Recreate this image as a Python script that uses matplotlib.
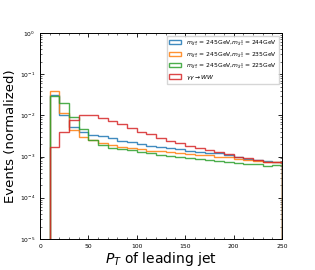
import numpy as np
import matplotlib
matplotlib.use("Agg")
import matplotlib.pyplot as plt
from matplotlib.ticker import LogLocator, AutoMinorLocator

# --- Data: normalized leading-jet pT histograms (10 GeV bins, 10-250) ---
bin_edges = list(range(10, 251, 10))

blue_vals = [3.2e-2, 1.0e-2, 5.3e-3, 4.0e-3, 3.4e-3, 3.2e-3, 2.75e-3, 2.45e-3,
             2.2e-3, 2.0e-3, 1.85e-3, 1.75e-3, 1.6e-3, 1.5e-3, 1.36e-3, 1.28e-3,
             1.25e-3, 1.2e-3, 1.1e-3, 0.96e-3, 0.88e-3, 0.83e-3, 0.76e-3, 0.75e-3]
orange_vals = [3.8e-2, 1.15e-2, 4.3e-3, 2.9e-3, 2.5e-3, 2.1e-3, 1.9e-3, 1.75e-3,
               1.6e-3, 1.55e-3, 1.4e-3, 1.35e-3, 1.26e-3, 1.23e-3, 1.13e-3, 1.07e-3,
               1.07e-3, 1.0e-3, 0.95e-3, 0.88e-3, 0.81e-3, 0.76e-3, 0.72e-3, 0.72e-3]
green_vals = [2.9e-2, 2.0e-2, 9.1e-3, 4.7e-3, 2.5e-3, 1.9e-3, 1.6e-3, 1.5e-3,
              1.45e-3, 1.26e-3, 1.2e-3, 1.1e-3, 1.05e-3, 0.96e-3, 0.91e-3, 0.87e-3,
              0.83e-3, 0.78e-3, 0.73e-3, 0.70e-3, 0.67e-3, 0.66e-3, 0.58e-3, 0.61e-3]
red_vals = [1.66e-3, 4.0e-3, 7.8e-3, 1.0e-2, 1.0e-2, 8.7e-3, 7.4e-3, 6.0e-3,
            5.0e-3, 4.0e-3, 3.5e-3, 2.8e-3, 2.45e-3, 2.1e-3, 1.85e-3, 1.6e-3,
            1.45e-3, 1.26e-3, 1.15e-3, 1.0e-3, 0.91e-3, 0.83e-3, 0.74e-3, 0.72e-3]

labels = [
    r"$m_{\tilde{\chi}^{\pm}_{1}}$ = 245GeV,$m_{\tilde{\chi}^{0}_{1}}$ = 244GeV",
    r"$m_{\tilde{\chi}^{\pm}_{1}}$ = 245GeV,$m_{\tilde{\chi}^{0}_{1}}$ = 235GeV",
    r"$m_{\tilde{\chi}^{\pm}_{1}}$ = 245GeV,$m_{\tilde{\chi}^{0}_{1}}$ = 225GeV",
    r"$\gamma\gamma\to WW$",
]
colors = ["tab:blue", "tab:orange", "tab:green", "tab:red"]

fig = plt.figure(figsize=(3.15, 2.7), dpi=100)
ax = fig.add_axes([0.127, 0.115, 0.768, 0.763])

edges = np.array(bin_edges)
centers = 0.5 * (edges[:-1] + edges[1:])
for vals, lab, col in zip([blue_vals, orange_vals, green_vals, red_vals], labels, colors):
    ax.hist(centers, bins=edges, weights=vals, histtype="step",
            color=col, linewidth=1.0, alpha=0.85, label=lab)

ax.set_yscale("log")
ax.set_xlim(0, 250)
ax.set_ylim(1e-5, 1)
ax.set_xticks([0, 50, 100, 150, 200, 250])
ax.xaxis.set_minor_locator(AutoMinorLocator(5))
ax.yaxis.set_minor_locator(LogLocator(base=10, subs=np.arange(2, 10), numticks=20))
ax.tick_params(which="both", direction="in", top=True, right=True, labelsize=4.3)
ax.tick_params(which="major", length=3, width=0.6)
ax.tick_params(which="minor", length=1.5, width=0.4)
for sp in ax.spines.values():
    sp.set_linewidth(0.7)

ax.set_xlabel(r"$P_T$ of leading jet", fontsize=10, labelpad=1)
ax.set_ylabel("Events (normalized)", fontsize=9.5, labelpad=2)

ax.legend(loc="upper right", fontsize=4.3, frameon=True, fancybox=False,
          edgecolor="0.8", handlelength=2.0, borderpad=0.4, labelspacing=0.25)

fig.savefig("out.png", dpi=100)
